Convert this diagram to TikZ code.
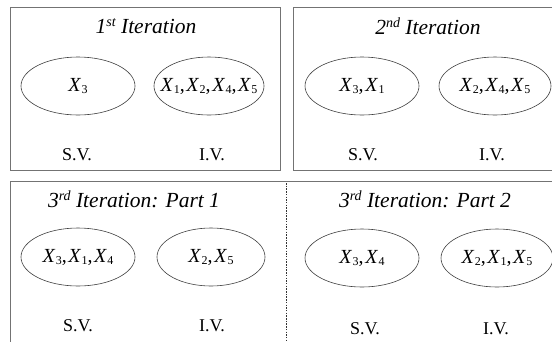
\documentclass[tikz,border=0pt]{standalone}
\usepackage{fontspec}
\setmainfont{Liberation Serif}
\usetikzlibrary{shapes.geometric}
\newcommand{\xv}[1]{\textit{X}\kern0.02em\raisebox{-0.3ex}{\fontsize{12}{12}\selectfont #1}}
\newcommand{\cm}{,\kern0.08em}
\newcommand{\supx}[1]{\raisebox{0.75ex}{\fontsize{14}{14}\selectfont #1}}
\begin{document}
\begin{tikzpicture}[x=1pt,y=-1pt,
  frame/.style={draw=black!55,line width=1pt},
  set/.style={draw=black!75,line width=0.6pt,ellipse,inner sep=0pt},
  ttl/.style={font=\fontsize{21.5}{21.5}\selectfont\itshape},
  vars/.style={font=\fontsize{20}{20}\selectfont},
  lab/.style={font=\fontsize{18}{18}\selectfont}]
\useasboundingbox (0,0) rectangle (552,341);
\fill[white] (0,0) rectangle (552,341);
% frames
\draw[frame] (10,7) rectangle (280,170);
\draw[frame] (293,7) rectangle (560,170);
\draw[frame] (10,181) rectangle (560,350);
\coordinate (dtop) at (286,183);
\coordinate (dbot) at (286,341);
\draw[black!80,line width=0.6pt,dash pattern=on 1.5pt off 1.2pt] (dtop) -- (dbot);
% panel 1
\node[ttl] (t1) at (146,26) {1\supx{st} Iteration};
\node[set,minimum width=114pt,minimum height=58pt] (s1) at (78,86) {};
\node[vars] at (s1) {\xv{3}};
\node[set,minimum width=110pt,minimum height=58pt] (i1) at (209,86) {};
\node[vars] at (i1) {\xv{1}\cm\xv{2}\cm\xv{4}\cm\xv{5}};
\node[lab] (sv1) at (77,155) {S.V.};
\node[lab] (iv1) at (212,155) {I.V.};
% panel 2
\node[ttl] (t2) at (428,26) {2\supx{nd} Iteration};
\node[set,minimum width=114pt,minimum height=58pt] (s2) at (362,86) {};
\node[vars] at (s2) {\xv{3}\cm\xv{1}};
\node[set,minimum width=112pt,minimum height=58pt] (i2) at (495,86) {};
\node[vars] at (i2) {\xv{2}\cm\xv{4}\cm\xv{5}};
\node[lab] (sv2) at (363,155) {S.V.};
\node[lab] (iv2) at (492,155) {I.V.};
% panel 3
\node[ttl] (t3) at (134,199) {3\supx{rd} Iteration: Part 1};
\node[set,minimum width=114pt,minimum height=58pt] (s3) at (78,257) {};
\node[vars] at (s3) {\xv{3}\cm\xv{1}\cm\xv{4}};
\node[set,minimum width=108pt,minimum height=58pt] (i3) at (211,257) {};
\node[vars] at (i3) {\xv{2}\cm\xv{5}};
\node[lab] (sv3) at (78,326) {S.V.};
\node[lab] (iv3) at (212,326) {I.V.};
% panel 4
\node[ttl] (t4) at (425,199) {3\supx{rd} Iteration: Part 2};
\node[set,minimum width=114pt,minimum height=58pt] (s4) at (362,258) {};
\node[vars] at (s4) {\xv{3}\cm\xv{4}};
\node[set,minimum width=112pt,minimum height=58pt] (i4) at (497,258) {};
\node[vars] at (i4) {\xv{2}\cm\xv{1}\cm\xv{5}};
\node[lab] (sv4) at (365,329) {S.V.};
\node[lab] (iv4) at (496,329) {I.V.};
\end{tikzpicture}
\end{document}
